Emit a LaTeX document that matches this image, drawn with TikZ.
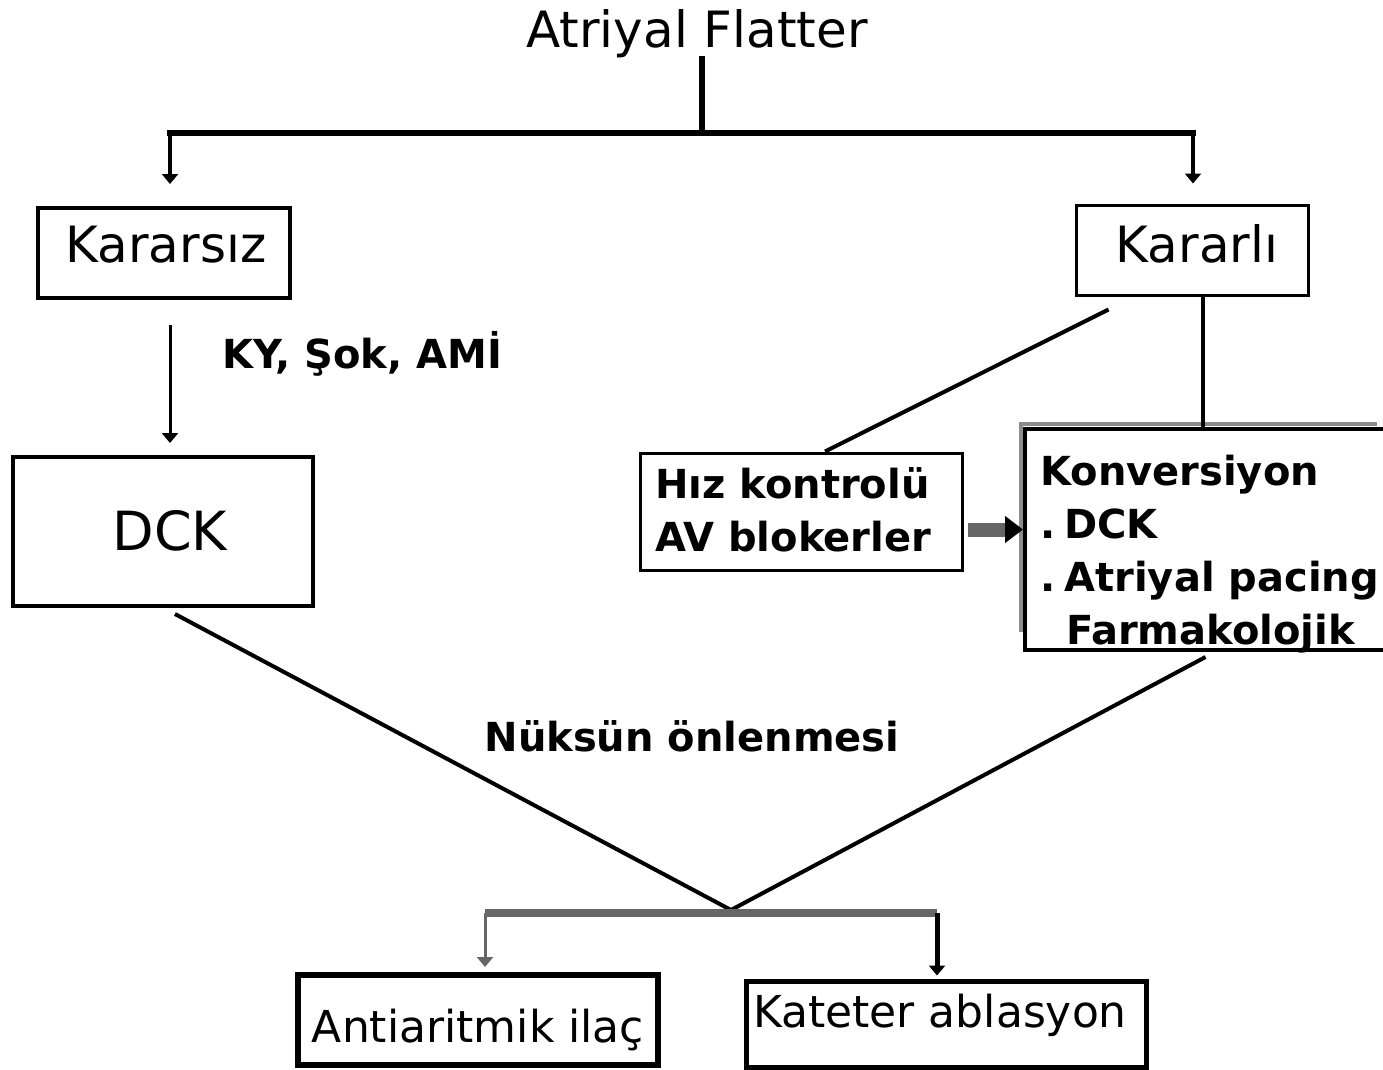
\documentclass[tikz,border=0pt]{standalone}
\usepackage{fontspec}
\setmainfont{DejaVu Sans}
\usetikzlibrary{arrows.meta,calc}
\begin{document}
\begin{tikzpicture}[x=1pt,y=-1pt,
  box/.style={draw, inner sep=0pt},
  big/.style={font=\fontsize{50}{58}\selectfont, inner sep=0pt},
  dcktext/.style={font=\fontsize{54}{60}\selectfont, inner sep=0pt},
  mid/.style={font=\fontsize{44}{52}\selectfont, inner sep=0pt},
  bold/.style={font=\bfseries\fontsize{40}{53}\selectfont, inner sep=0pt},
  drop/.style={-{Triangle[length=10pt,width=16pt]}},
  trunk/.style={line width=6pt},
  link/.style={line width=4pt},
  grayline/.style={draw=black!60, line width=8pt},
  rate/.style={draw=black!60, line width=14pt, -{Triangle[length=18pt,width=26pt,color=black]}}
]
\useasboundingbox (0,0) rectangle (1383,1069);

% title
\node[big, anchor=base] (title) at (697,47) {Atriyal Flatter};

% first level boxes
\node[box, line width=4pt, minimum width=252, minimum height=90] (unstable) at (164,253) {};
\node[big, anchor=base] (unstableText) at (166,262) {Kararsız};
\node[box, line width=3pt, minimum width=232, minimum height=90] (stable) at (1192,250) {};
\node[big, anchor=base] (stableText) at (1197,262) {Kararlı};

% second level
\node[box, line width=4pt, minimum width=300, minimum height=149] (dck) at (163,531.5) {};
\node[dcktext, anchor=base] (dckText) at (170,550) {DCK};

\node[box, line width=3pt, minimum width=322, minimum height=117] (hiz) at (801,511.5) {};
\node[bold, anchor=north west, align=left] (hizText) at (655,467)
  {Hız kontrolü\\AV blokerler};

\node[box, line width=4pt, minimum width=367, minimum height=221] (konv) at (1208.5,539.5) {};
\draw[black!45, line width=4pt] (1021,632) -- (1021,424) -- (1377,424);
\node[bold, anchor=north west, align=left] (konvText) at (1040,455)
  {Konversiyon\\.\hspace{9pt}DCK\\.\hspace{9pt}Atriyal pacing\\\hspace*{26pt}Farmakolojik};

% labels
\node[bold, anchor=base west] (kyLabel) at (222,368) {KY, Şok, AMİ};
\node[bold, anchor=base] (recLabel) at (692,751) {Nüksün önlenmesi};

% bottom boxes
\node[box, line width=6pt, minimum width=360, minimum height=90] (anti) at (478,1020) {};
\node[mid, anchor=base] (antiText) at (478,1042) {Antiaritmik ilaç};
\node[box, line width=5pt, minimum width=400, minimum height=86] (kat) at (946,1024) {};
\node[mid, anchor=base] (katText) at (940,1027) {Kateter ablasyon};

% top split
\coordinate (split) at (702,133);
\coordinate (tl) at (170,133);
\coordinate (tr) at (1193,133);
\draw[trunk] ($(split |- title.base)+(0,9)$) -- (split);
\draw[trunk, line cap=rect] (tl) -- (tr);
\draw[link, drop, shorten >=22pt] (tl) -- (tl |- unstable.north);
\draw[link, drop, shorten >=20pt] (tr) -- (tr |- stable.north);

% Kararsiz -> DCK
\coordinate (uOut) at ($(unstable.south)+(6,0)$);
\draw[line width=3pt, drop, shorten <=25pt, shorten >=12pt] (uOut) -- (uOut |- dck.north);

% Kararli -> Konversiyon
\coordinate (kdrop) at ($(stable.south)+(11,0)$);
\draw[link] (kdrop) -- (kdrop |- konv.north);

% Kararli -> Hiz kontrolu
\draw[link] ($(stable.south west)+(34,13)$) -- ($(hiz.north)+(24,0)$);

% Hiz kontrolu -> Konversiyon
\coordinate (rateOut) at ($(hiz.east)+(4,18)$);
\draw[rate] (rateOut) -- (rateOut -| konv.west);

% recurrence prevention
\coordinate (meet) at (731,910);
\draw[link] ($(dck.south)+(12,6)$) -- (meet);
\draw[link] ($(konv.south)+(-3,5)$) -- (meet);

\coordinate (bl) at (485,913);
\coordinate (br) at (937,913);
\draw[grayline] (bl) -- (br);
\draw[draw=black!60, line width=3pt, drop, shorten >=5pt] (bl) -- (bl |- anti.north);
\draw[line width=5pt, drop, shorten >=3pt] (br) -- (br |- kat.north);
\end{tikzpicture}
\end{document}
